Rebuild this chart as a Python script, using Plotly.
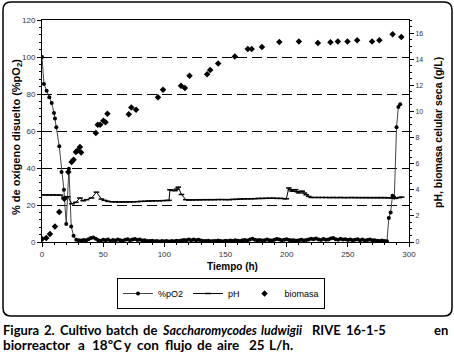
import plotly.graph_objects as go

# ---------------- data ----------------
po2_t = [0, 1.6, 3.8, 6, 7.9, 9.8, 10.6, 11.7, 14.1, 16, 17.9, 19.8, 22, 23.9, 25.8, 28,
         30, 32, 34, 36, 38, 40, 42, 44, 46, 48, 50, 52, 54, 56, 58, 60, 62, 64, 66, 68,
         70, 72, 74, 76, 78, 80, 82, 84, 86, 88, 90, 92, 94, 96, 98, 100, 102, 104, 106,
         108, 110, 112, 114, 116, 118, 120, 122, 124, 126, 128, 130, 132, 134, 136, 138,
         140, 142, 144, 146, 148, 150, 152, 154, 156, 158, 160, 162, 164, 166, 168, 170,
         172, 174, 176, 178, 180, 182, 184, 186, 188, 190, 192, 194, 196, 198, 200, 202,
         204, 206, 208, 210, 212, 214, 216, 218, 220, 222, 224, 226, 228, 230, 232, 234,
         236, 238, 240, 242, 244, 246, 248, 250, 252, 254, 256, 258, 260, 262, 264, 266,
         268, 270, 272, 274, 276, 278, 280, 282, 283.5, 285, 286.5, 288, 289.8, 291.3, 292.8]
po2_v = [100, 85.4, 81.8, 78.2, 75.1, 69.7, 66.8, 62, 51.7, 37.8, 28.3, 9.7, 39.6, 8.4, 3.4, 1.2,
         1.0, 0.8, 1.1, 0.9, 1.5, 2.2, 2.4, 1.8, 1.0, 0.7, 1.2, 0.9, 1.3, 0.6, 1.1, 0.8, 1.4, 1.0, 0.7, 1.2,
         1.5, 0.9, 1.3, 1.6, 1.1, 1.4, 0.8, 1.0, 0.6, 0.5, 0.7, 0.4, 0.6, 0.3, 0.5, 0.4, 0.6, 0.3, 0.5,
         0.4, 0.7, 0.5, 0.8, 1.1, 0.9, 1.3, 1.0, 1.4, 0.9, 1.2, 0.8, 0.6, 0.5, 0.7, 0.4,
         0.6, 0.5, 0.8, 0.6, 0.4, 0.7, 0.5, 0.8, 0.6, 0.9, 0.7, 0.5, 0.9, 1.1, 0.8, 1.4,
         1.7, 1.2, 0.9, 1.1, 0.8, 1.0, 1.3, 1.0, 0.8, 1.2, 1.6, 1.3, 1.0, 1.2, 1.5, 1.1,
         0.9, 1.0, 0.7, 0.9, 1.2, 0.8, 1.1, 1.4, 1.8, 1.5, 1.9, 1.3, 1.1, 1.6, 1.2, 1.4,
         1.9, 2.1, 1.5, 1.2, 1.7, 1.3, 1.5, 1.1, 1.4, 0.9, 1.2, 1.5, 1.0, 1.3, 0.8, 1.1,
         1.4, 0.9, 1.0, 0.7, 0.5, 0.8, 0.6, 0.4, 13, 16, 25, 24, 62, 73, 74.5]

ph_t = [0, 3, 6, 9, 12, 15, 18, 21, 24.5, 27.7, 31, 33.7, 36.4, 40.5, 44.5, 48.6, 51, 54, 57, 60,
        63, 66, 69, 72, 75, 78, 81, 84, 87, 90, 93, 96, 99, 102, 103.8, 104.6, 106.5, 108.7, 110,
        111.4, 114, 117.6, 120, 123, 126, 129, 132, 135, 138, 141, 144, 147, 150, 153, 156, 159,
        162, 165, 168, 171, 174, 177, 180, 183, 186, 189, 192, 195, 198, 199.7, 201.8, 203, 204.6,
        206, 207.3, 208.5, 210, 211.5, 212.7, 214.5, 216, 218, 220, 223, 226, 229, 232, 235, 238,
        241, 244, 247, 250, 253, 256, 259, 262, 265, 268, 271, 274, 277, 280, 283, 286, 289, 292, 294]
ph_v = [3.61, 3.61, 3.60, 3.61, 3.60, 3.59, 3.37, 3.47, 2.93, 3.04, 3.37, 3.16, 3.24, 3.37, 3.82, 3.29, 3.19, 3.11, 3.08, 3.07,
        3.07, 3.06, 3.06, 3.07, 3.07, 3.09, 3.11, 3.12, 3.14, 3.15, 3.16, 3.16, 3.17, 3.18, 3.19, 4.00, 3.95, 3.93, 4.05,
        4.20, 3.64, 3.24, 3.22, 3.22, 3.23, 3.23, 3.24, 3.24, 3.24, 3.24, 3.25, 3.25, 3.24, 3.24, 3.26, 3.27,
        3.29, 3.30, 3.31, 3.31, 3.32, 3.34, 3.34, 3.35, 3.36, 3.36, 3.34, 3.34, 3.32, 3.31, 4.14, 4.00, 3.89,
        4.00, 4.01, 3.85, 3.76, 3.87, 3.89, 3.75, 3.62, 3.49, 3.41, 3.41, 3.41, 3.41, 3.41, 3.40, 3.41,
        3.40, 3.41, 3.40, 3.40, 3.41, 3.40, 3.40, 3.40, 3.40, 3.40, 3.40, 3.40, 3.40, 3.40, 3.39, 3.37, 3.34, 3.40, 3.44]

bio_t = [0, 3.5, 6.5, 10.6, 14.1, 18.2, 21.5, 24.2, 25.8, 27.7, 29, 31, 32, 44, 45.6, 47.5, 50.2, 51.9,
         53.5, 70.9, 73, 76.9, 94.8, 98.9, 113.6, 116.8, 120.6, 135, 137.5, 144, 157.6, 168.2, 171.4,
         179.8, 194, 210, 225.5, 235.8, 241.8, 249.7, 257.6, 269.8, 275.8, 286.6, 293.7]
bio_v = [0.23, 0.31, 0.61, 1.19, 2.30, 3.32, 5.36, 6.12, 6.30, 6.89, 7.01, 7.27, 6.86, 8.34, 8.98, 8.98, 9.29, 9.17,
         9.83, 9.78, 10.29, 10.13, 11.08, 11.65, 11.97, 11.79, 12.74, 12.84, 13.18, 13.66, 14.20, 14.78, 14.78,
         14.93, 15.31, 15.36, 15.24, 15.29, 15.36, 15.36, 15.44, 15.36, 15.44, 15.90, 15.70]

x_ticks = [0, 50, 100, 150, 200, 250, 300]
y1_ticks = [0, 20, 40, 60, 80, 100, 120]
y2_ticks = [0, 2, 4, 6, 8, 10, 12, 14, 16]

# ---------------- layout helpers (pixel -> paper) ----------------
W, H = 454, 355
L, R, T, B = 42, 45, 20, 113
PW, PH = W - L - R, H - T - B


def px(x):
    return (x - L) / PW


def py(y):
    return (H - B - y) / PH


fig = go.Figure()
fig.add_trace(go.Scatter(x=po2_t, y=po2_v, name="%pO2", mode="lines+markers",
                         line=dict(color="#444444", width=1),
                         marker=dict(symbol="circle", size=4, color="black")))
fig.add_trace(go.Scatter(x=ph_t, y=ph_v, name="pH", mode="lines+markers", yaxis="y2",
                         line=dict(color="black", width=1),
                         marker=dict(symbol="line-ew", size=4, line=dict(color="black", width=1.5))))
fig.add_trace(go.Scatter(x=bio_t, y=bio_v, name="biomasa", mode="markers", yaxis="y2",
                         marker=dict(symbol="diamond", size=5, color="black")))

tickfont = dict(family="Arial, Liberation Sans, sans-serif", size=8, color="#333333")
fig.update_layout(
    width=W, height=H, margin=dict(l=L, r=R, t=T, b=B, autoexpand=False),
    paper_bgcolor="white", plot_bgcolor="white",
    font=dict(family="Arial, Liberation Sans, sans-serif", color="black"),
    xaxis=dict(range=[0, 300], tickvals=x_ticks, ticks="outside", ticklen=4, tickcolor="black",
               showline=True, linecolor="black", linewidth=1, mirror=True, showgrid=False,
               zeroline=False, tickfont=tickfont,
               minor=dict(dtick=10, ticks="outside", ticklen=2, tickcolor="black")),
    yaxis=dict(range=[0, 120], tickvals=y1_ticks, ticks="outside", ticklen=4, tickcolor="black",
               showline=True, linecolor="black", linewidth=1, mirror=True, zeroline=False,
               showgrid=True, gridcolor="black", griddash="10px,5px", gridwidth=1,
               tickfont=tickfont,
               minor=dict(dtick=4, ticks="outside", ticklen=2, tickcolor="black", showgrid=False)),
    yaxis2=dict(range=[0, 17], tickvals=y2_ticks, overlaying="y", side="right", ticks="outside",
                ticklen=4, tickcolor="black", showline=True, linecolor="black", linewidth=1,
                showgrid=False, zeroline=False,
                tickfont=dict(family="Arial, Liberation Sans, sans-serif", size=7, color="#333333"),
                minor=dict(dtick=0.5, ticks="outside", ticklen=2, tickcolor="black")),
    showlegend=True,
    legend=dict(orientation="h", x=px(117), y=py(278), xanchor="left", yanchor="top",
                bordercolor="black", borderwidth=1, bgcolor="white",
                font=dict(family="Arial, Liberation Sans, sans-serif", size=9, color="black"),
                tracegroupgap=0, itemwidth=30, entrywidthmode="pixels", entrywidth=0),
)

title_font = dict(family="Arial, Liberation Sans, sans-serif", size=11, color="black")
fig.add_annotation(text="<b>% de oxígeno disuelto (%pO<sub>2</sub>)</b>", xref="paper", yref="paper",
                   x=px(17), y=py(137), textangle=-90, showarrow=False, font=title_font,
                   xanchor="center", yanchor="middle")
fig.add_annotation(text="<b>pH, biomasa celular seca (g/L)</b>", xref="paper", yref="paper",
                   x=px(438), y=py(133), textangle=-90, showarrow=False, font=dict(title_font, size=10.5),
                   xanchor="center", yanchor="middle")
fig.add_annotation(text="<b>Tiempo (h)</b>", xref="paper", yref="paper",
                   x=px(232), y=py(266), showarrow=False, font=dict(title_font, size=10),
                   xanchor="center", yanchor="middle")

# rounded outer frame
x0, x1, y0, y1 = 3, 452, 2, 316
rr = 8
path = (f"M {px(x0 + rr)},{py(y0)} L {px(x1 - rr)},{py(y0)} Q {px(x1)},{py(y0)} {px(x1)},{py(y0 + rr)} "
        f"L {px(x1)},{py(y1 - rr)} Q {px(x1)},{py(y1)} {px(x1 - rr)},{py(y1)} "
        f"L {px(x0 + rr)},{py(y1)} Q {px(x0)},{py(y1)} {px(x0)},{py(y1 - rr)} "
        f"L {px(x0)},{py(y0 + rr)} Q {px(x0)},{py(y0)} {px(x0 + rr)},{py(y0)} Z")
fig.add_shape(type="path", path=path, xref="paper", yref="paper",
              line=dict(color="black", width=1.5), layer="below")

# caption (justified first line: words placed individually)
cap1_font = dict(family="Lato, Open Sans, sans-serif", size=13, color="black")
cap2_font = dict(family="Lato, Open Sans, sans-serif", size=13.5, color="black")
ital_font = dict(family="Lato, Open Sans, sans-serif", size=12.5, color="black")
line1 = [("Figura", 1), ("2.", 42), ("Cultivo", 58), ("batch", 104), ("de", 141),
         ("<i>Saccharomycodes</i>", 160), ("<i>ludwigii</i>", 259), ("RIVE", 310),
         ("16-1-5", 344), ("en", 432)]
for word, xx in line1:
    fig.add_annotation(text=f"<b>{word}</b>", xref="paper", yref="paper", x=px(xx), y=py(330),
                       showarrow=False, xanchor="left", yanchor="middle",
                       font=ital_font if word.startswith("<i>") else cap1_font)
line2 = [("biorreactor", 1), ("a", 76), ("18ºC", 90), ("y", 122), ("con", 135), ("flujo", 163),
         ("de", 195), ("aire", 215), ("25", 247), ("L/h.", 267)]
for word, xx in line2:
    fig.add_annotation(text=f"<b>{word}</b>", xref="paper", yref="paper", x=px(xx), y=py(345),
                       showarrow=False, xanchor="left", yanchor="middle", font=cap2_font)

fig.write_html("out.html", config={"displayModeBar": False},
               post_script="document.body.style.margin='0';document.body.style.overflow='hidden';")
